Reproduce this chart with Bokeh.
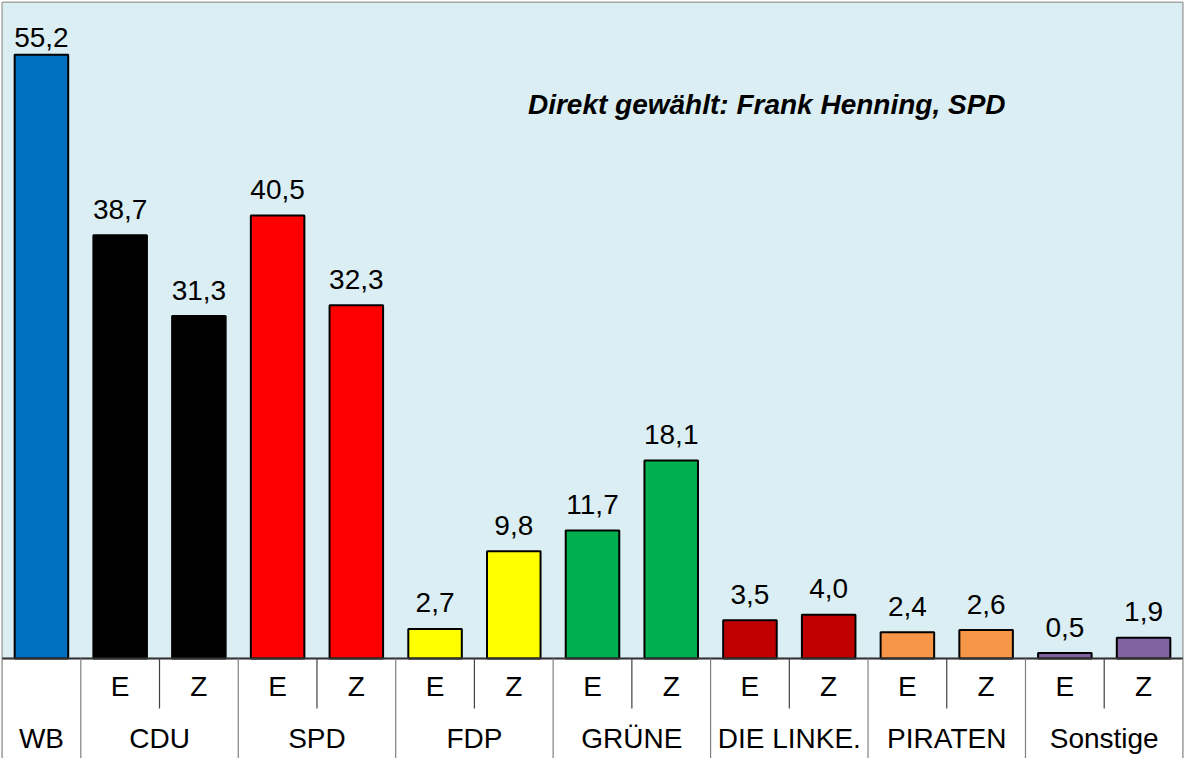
from bokeh.plotting import figure
from bokeh.models import Range1d, ColumnDataSource
from bokeh.core.properties import value
from bokeh.embed import file_html
from bokeh.resources import INLINE

# ---- data ----
groups = ["WB", "CDU", "SPD", "FDP", "GRÜNE", "DIE LINKE.", "PIRATEN", "Sonstige"]
group_sizes = [1, 2, 2, 2, 2, 2, 2, 2]
sub_labels = ["", "E", "Z", "E", "Z", "E", "Z", "E", "Z", "E", "Z", "E", "Z", "E", "Z"]
values = [55.2, 38.7, 31.3, 40.5, 32.3, 2.7, 9.8, 11.7, 18.1, 3.5, 4.0, 2.4, 2.6, 0.5, 1.9]
group_colors = ["#0070C0", "#000000", "#FF0000", "#FFFF00", "#00B050", "#C00000", "#F79646", "#8064A2"]
title_text = "Direkt gewählt: Frank Henning, SPD"

FONT = "Liberation Sans"
H = 758
AXIS_PX = 100                      # height of the category-axis band
YMAX = 60
YTOP = YMAX + 0.15
K = (H - AXIS_PX) / YTOP           # px per unit
YBOT = -AXIS_PX / K

bar_colors = []
for c, n in zip(group_colors, group_sizes):
    bar_colors += [c] * n

n = len(values)
xs = [i + 0.5 for i in range(n)]

# label offsets: normally above bar; pushed down if it would leave plot area
offsets = []
for v in values:
    top_px = (YTOP - v) * K
    offsets.append(max(-26, 37 - top_px))

p = figure(width=1184, height=H, output_backend="svg", toolbar_location=None,
           x_range=Range1d(-0.02, n + 0.02), y_range=Range1d(YBOT, YTOP),
           min_border=0, tools="")
p.axis.visible = False
p.grid.visible = False
p.outline_line_color = None
p.background_fill_color = "white"
p.border_fill_color = "white"

# plot area background
p.quad(left=[0], right=[n], bottom=[0], top=[YMAX], fill_color="#DAEEF3",
       line_color="#A6A6A6", line_width=1.5)

# bars
src = ColumnDataSource(dict(x=xs, top=values, color=bar_colors, off=offsets,
                            lab=[f"{v:.1f}".replace(".", ",") for v in values]))
p.vbar(x="x", top="top", bottom=0, width=0.68, fill_color="color",
       line_color="black", line_width=2, source=src)

# value labels
p.text(x="x", y="top", text="lab", source=src, text_align="center",
       text_baseline="alphabetic", y_offset="off", text_font=value(FONT),
       text_font_size="28px", text_color="black")

# axis line
p.segment(x0=[0], y0=[0], x1=[n], y1=[0], line_color="#333333", line_width=2)

# group separators (full height of axis area)
bounds = [0]
for s in group_sizes:
    bounds.append(bounds[-1] + s)
p.segment(x0=bounds, y0=[0] * len(bounds), x1=bounds, y1=[YBOT] * len(bounds),
          line_color="#808080", line_width=1.2)

# sub separators
subs = [b + 1 for b, s in zip(bounds[:-1], group_sizes) if s == 2]
p.segment(x0=subs, y0=[0] * len(subs), x1=subs, y1=[-50 / K] * len(subs),
          line_color="#404040", line_width=1.2)

# sub labels
p.text(x=xs, y=[-28 / K] * n, text=sub_labels, text_align="center",
       text_baseline="middle", text_font=value(FONT), text_font_size="28px",
       text_color="black")

# group labels
gx = [(bounds[i] + bounds[i + 1]) / 2 for i in range(len(groups))]
p.text(x=gx, y=[-80 / K] * len(groups), text=groups, text_align="center",
       text_baseline="middle", text_font=value(FONT), text_font_size="28px",
       text_color="black")

# title annotation
p.text(x=[6.68], y=[YTOP - 104 / K], text=[title_text], text_align="left",
       text_baseline="middle", text_font=value(FONT), text_font_size="28px",
       text_font_style="bold italic", text_color="black")

open("out.html", "w").write(file_html(p, INLINE))
